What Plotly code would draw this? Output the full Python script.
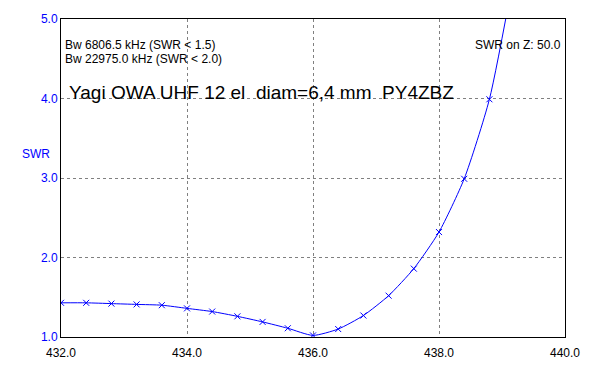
import plotly.graph_objects as go

freq = [432.0, 432.4, 432.8, 433.2, 433.6, 434.0, 434.4, 434.8, 435.2, 435.6,
        436.0, 436.4, 436.8, 437.2, 437.6, 438.0, 438.4, 438.8, 439.2]
swr = [1.43, 1.43, 1.42, 1.41, 1.40, 1.36, 1.32, 1.26, 1.19, 1.11,
       1.02, 1.10, 1.27, 1.52, 1.86, 2.32, 2.99, 3.99, 5.6]

x_ticks = [432, 434, 436, 438, 440]
y_ticks = [1, 2, 3, 4, 5]

FONT = "Arial, Liberation Sans, sans-serif"

fig = go.Figure()
fig.add_trace(go.Scatter(
    x=freq, y=swr, mode="lines+markers",
    line=dict(color="#0000FF", width=1, shape="spline", smoothing=0.6),
    marker=dict(symbol="x-thin", size=6, line=dict(color="#0000FF", width=1)),
    showlegend=False,
))

fig.update_layout(
    width=612, height=384,
    margin=dict(l=61, r=47, t=13, b=47),
    paper_bgcolor="white", plot_bgcolor="white",
    font=dict(family=FONT, size=12, color="black"),
    xaxis=dict(range=[432, 440], tickvals=x_ticks, ticktext=[f"{v:.1f}" for v in x_ticks],
               showgrid=True, gridcolor="#808080", griddash="3px,3px", gridwidth=1,
               showline=True, linecolor="black", linewidth=1, mirror=True,
               ticks="", ticklabelstandoff=5,
               tickfont=dict(color="black", size=12, family=FONT), zeroline=False),
    yaxis=dict(range=[1, 5], tickvals=y_ticks, ticktext=[f"{v:.1f}" for v in y_ticks],
               showgrid=True, gridcolor="#808080", griddash="3px,3px", gridwidth=1,
               showline=True, linecolor="black", linewidth=1, mirror=True,
               ticks="", tickfont=dict(color="#0000FF", size=12, family=FONT), zeroline=False),
)

fig.add_annotation(text="SWR", xref="paper", yref="paper", x=-0.018, y=0.575,
                   xanchor="right", showarrow=False,
                   font=dict(color="#0000FF", size=12, family=FONT))
fig.add_annotation(text="Bw 6806.5 kHz (SWR < 1.5)", xref="paper", yref="paper",
                   x=0.004, y=0.948, xanchor="left", showarrow=False,
                   font=dict(color="black", size=12, family=FONT))
fig.add_annotation(text="Bw 22975.0 kHz (SWR < 2.0)", xref="paper", yref="paper",
                   x=0.004, y=0.901, xanchor="left", showarrow=False,
                   font=dict(color="black", size=12, family=FONT))
fig.add_annotation(text="SWR on Z: 50.0", xref="paper", yref="paper",
                   x=0.996, y=0.948, xanchor="right", showarrow=False,
                   font=dict(color="black", size=12, family=FONT))
fig.add_annotation(text="Yagi OWA UHF 12 el \u00a0diam=6,4 mm \u00a0PY4ZBZ", xref="paper", yref="paper",
                   x=0.012, y=0.809, xanchor="left", showarrow=False,
                   font=dict(color="black", size=19, family=FONT))

fig.write_html("out.html", config={"displayModeBar": False},
               post_script="document.body.style.margin='0';")
